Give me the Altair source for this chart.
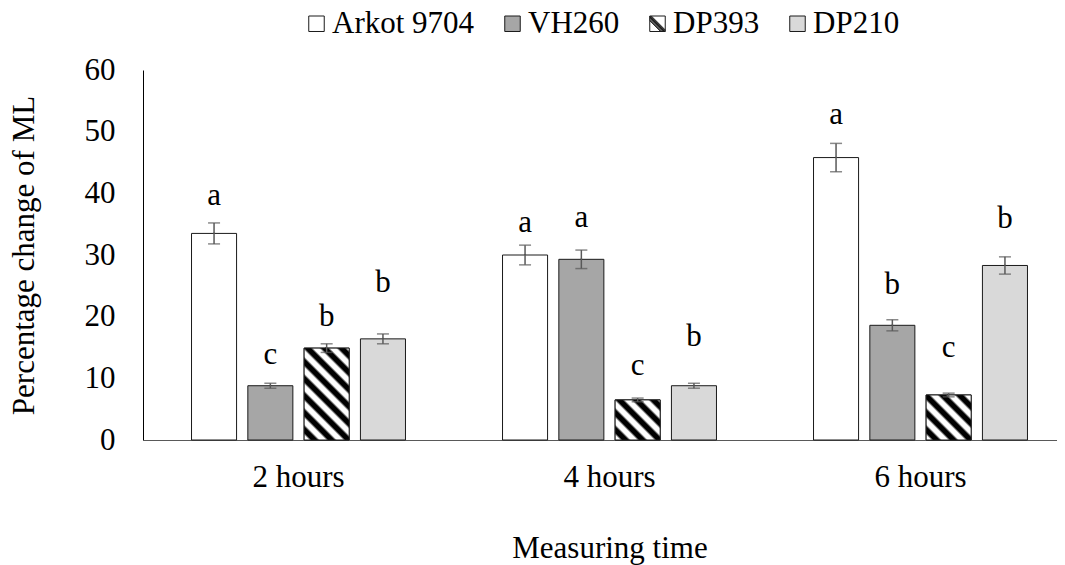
import math
import altair as alt
import pandas as pd

# ---------------- data ----------------
times = ["2 hours", "4 hours", "6 hours"]
cultivars = ["Arkot 9704", "VH260", "DP393", "DP210"]

arkot_mean = [33.5, 30.0, 45.8]
vh260_mean = [8.8, 29.3, 18.6]
dp393_mean = [14.9, 6.5, 7.3]
dp210_mean = [16.4, 8.8, 28.3]

arkot_err = [1.7, 1.6, 2.3]
vh260_err = [0.4, 1.5, 0.9]
dp393_err = [0.7, 0.3, 0.3]
dp210_err = [0.8, 0.4, 1.4]

arkot_letter = ["a", "a", "a"]
vh260_letter = ["c", "a", "b"]
dp393_letter = ["b", "c", "c"]
dp210_letter = ["b", "b", "b"]

# baseline height (in data units) of each significance letter
arkot_letter_y = [38.1, 33.7, 51.2]
vh260_letter_y = [12.3, 34.5, 23.6]
dp393_letter_y = [18.5, 10.5, 13.4]
dp210_letter_y = [24.0, 15.3, 34.3]

means = [arkot_mean, vh260_mean, dp393_mean, dp210_mean]
errs = [arkot_err, vh260_err, dp393_err, dp210_err]
letters = [arkot_letter, vh260_letter, dp393_letter, dp210_letter]
letter_ys = [arkot_letter_y, vh260_letter_y, dp393_letter_y, dp210_letter_y]

rows = []
for ci, c in enumerate(cultivars):
    for ti, t in enumerate(times):
        m = means[ci][ti]
        e = errs[ci][ti]
        rows.append(dict(time=t, cultivar=c, mean=m, lo=m - e, hi=m + e,
                         letter=letters[ci][ti], lpos=letter_ys[ci][ti]))
df = pd.DataFrame(rows)

# ---------------- style ----------------
FONT = "Liberation Serif"
YT = "Percentage change of ML"
PLOT_H = 370
Y_MAX = 60
PX_PER_UNIT = PLOT_H / Y_MAX
BAND = 311
BAR_W = 45.0


def stripe_gradient(w, h, period=12.0):
    k = (w + h) / (w * w + h * h)
    n = (w + h) / (math.sqrt(2) * period)
    pattern = [(0.0, "#ffffff"), (0.28, "#ffffff"), (0.45, "#000000"),
               (0.78, "#000000"), (0.95, "#ffffff")]
    stops = []
    j = 0
    while j <= n + 1:
        for f, col in pattern:
            o = (j + f) / n
            if o <= 1.0:
                stops.append({"offset": round(o, 4), "color": col})
        j += 1
    return {"gradient": "linear", "x1": 0, "y1": 1,
            "x2": round(k * w, 4), "y2": round(1 - k * h, 4), "stops": stops}


# legend symbol for the hatched cultivar: square outline with a diagonal band
hatch_lines = " ".join(
    f"M{-1 + d:.2f},-1L1,{1 - d:.2f}" if d >= 0 else f"M-1,{-1 - d:.2f}L{1 + d:.2f},1"
    for d in [-0.6, -0.45, -0.3, -0.2, -0.1, 0.0, 0.1, 0.2]
)
hatch_symbol = "M-1,-1L1,-1L1,1L-1,1Z " + hatch_lines

color_scale = alt.Scale(domain=cultivars, range=["#ffffff", "#a6a6a6", "#ffffff", "#d9d9d9"])
stroke_scale = alt.Scale(domain=cultivars, range=["#1a1a1a", "#1a1a1a", "#1a1a1a", "#1a1a1a"])
shape_scale = alt.Scale(domain=cultivars, range=["square", "square", hatch_symbol, "square"])

legend = alt.Legend(title=None, orient="none", direction="horizontal",
                    legendX=158, legendY=-62,
                    symbolSize=240, symbolStrokeWidth=1, symbolOpacity=1,
                    labelFont=FONT, labelFontSize=31, labelColor="#000000",
                    labelOffset=0, columnPadding=22, labelLimit=0)

x_enc = alt.X("time:N", sort=times, title="Measuring time",
              scale=alt.Scale(range=[0, BAND * 3], paddingInner=0, paddingOuter=0),
              axis=alt.Axis(labelAngle=0, ticks=False, labelPadding=22, titlePadding=41,
                            domainColor="#595959", domainWidth=1.2,
                            labelFont=FONT, titleFont=FONT, labelFontSize=31,
                            titleFontSize=31, titleFontWeight="normal", titleLimit=0,
                            labelColor="#000000", titleColor="#000000"))
xo_enc = alt.XOffset("cultivar:N", sort=cultivars,
                     scale=alt.Scale(paddingInner=0.2, paddingOuter=0.862))

base = alt.Chart(df).encode(x=x_enc, xOffset=xo_enc)

y_axis = alt.Axis(values=[0, 10, 20, 30, 40, 50, 60], ticks=False, grid=False,
                  labelPadding=28, titlePadding=44, domainColor="#000000", domainWidth=1,
                  labelFont=FONT, titleFont=FONT, labelFontSize=31,
                  titleFontSize=31, titleFontWeight="normal", titleLimit=0,
                  labelColor="#000000", titleColor="#000000")

color_enc = alt.Color("cultivar:N", sort=cultivars, scale=color_scale, legend=legend)
stroke_enc = alt.Stroke("cultivar:N", sort=cultivars, scale=stroke_scale, legend=legend)

# tiny points (hidden under the bars) only carry the legend: fill, outline and shape of each cultivar
legend_pts = base.mark_point(filled=True, size=1, strokeWidth=1).encode(
    y=alt.Y("mean:Q", title=YT, scale=alt.Scale(domain=[0, Y_MAX], nice=False), axis=y_axis),
    color=color_enc, stroke=stroke_enc,
    shape=alt.Shape("cultivar:N", sort=cultivars, scale=shape_scale, legend=legend),
)

bars = base.mark_bar(strokeWidth=1).encode(
    y=alt.Y("mean:Q", title=YT), color=color_enc, stroke=stroke_enc,
)

stripe_layers = []
for ti, t in enumerate(times):
    h = dp393_mean[ti] * PX_PER_UNIT
    g = stripe_gradient(BAR_W, h)
    stripe_layers.append(
        base.transform_filter((alt.datum.cultivar == "DP393") & (alt.datum.time == t))
        .mark_bar(fill=g, stroke="#1a1a1a", strokeWidth=1)
        .encode(y=alt.Y("mean:Q", title=YT))
    )

rules = base.mark_rule(color="#595959", strokeWidth=1.5).encode(
    y=alt.Y("lo:Q", title=YT), y2="hi:Q")
caps_lo = base.mark_tick(color="#595959", thickness=1.5, size=12).encode(
    y=alt.Y("lo:Q", title=YT))
caps_hi = base.mark_tick(color="#595959", thickness=1.5, size=12).encode(
    y=alt.Y("hi:Q", title=YT))

texts = base.mark_text(font=FONT, fontSize=31, baseline="alphabetic", color="#000000").encode(
    y=alt.Y("lpos:Q", title=YT), text="letter:N")

chart = alt.layer(legend_pts, bars, *stripe_layers, rules, caps_lo, caps_hi, texts).properties(
    width=914, height=PLOT_H, autosize="none",
    padding={"left": 135, "top": 62, "right": 0, "bottom": 125},
    background="#ffffff",
).configure(font=FONT).configure_view(stroke=None).configure_axis(
    labelFont=FONT, titleFont=FONT, labelFontSize=31, titleFontSize=31,
    titleFontWeight="normal", labelColor="#000000", titleColor="#000000",
).configure_legend(labelFont=FONT, titleFont=FONT)

chart.save("out.html", embed_options={"renderer": "svg", "actions": False})
